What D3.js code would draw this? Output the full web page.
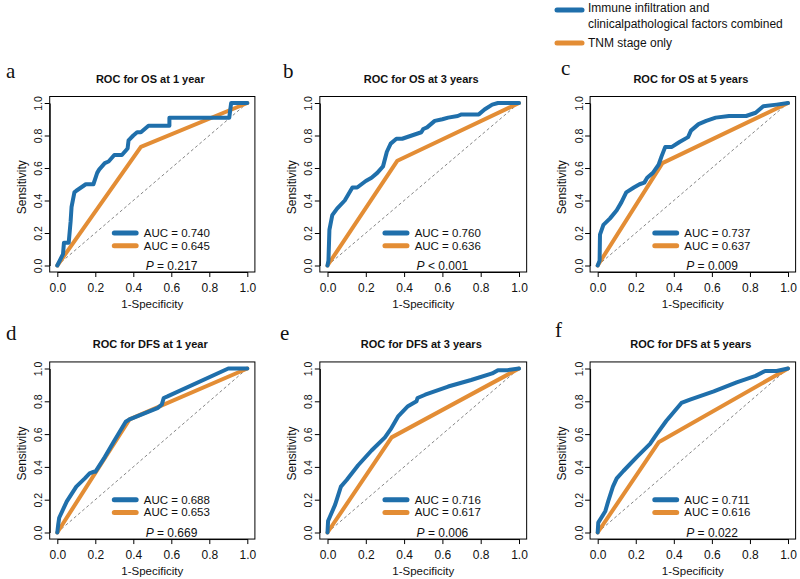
<!DOCTYPE html>
<html><head><meta charset="utf-8">
<script src="https://cdn.jsdelivr.net/npm/d3@7"></script>
<style>
body{margin:0;background:#fff;}
</style></head>
<body><svg id="c" width="800" height="579"></svg>
<script>
// ---------------- data ----------------
const letters = ["a","b","c","d","e","f"];
const titles = ["ROC for OS at 1 year","ROC for OS at 3 years","ROC for OS at 5 years",
                "ROC for DFS at 1 year","ROC for DFS at 3 years","ROC for DFS at 5 years"];
const aucCombined = ["0.740","0.760","0.737","0.688","0.716","0.711"];
const aucTNM = ["0.645","0.636","0.637","0.653","0.617","0.616"];
const pOp = ["=","<","=","=","=","="];
const pVal = ["0.217","0.001","0.009","0.669","0.006","0.022"];
const legendLabels = ["Immune infiltration and","clinicalpathological factors combined","TNM stage only"];
const ticks = [0,0.2,0.4,0.6,0.8,1.0];

// combined model ROC points [1-specificity, sensitivity]
const combOS1 = [[0,0],[0.03,0.07],[0.035,0.14],[0.06,0.14],[0.07,0.27],[0.075,0.36],[0.09,0.45],[0.1,0.46],[0.15,0.5],[0.19,0.5],[0.21,0.57],[0.22,0.59],[0.25,0.63],[0.27,0.64],[0.3,0.68],[0.34,0.68],[0.37,0.72],[0.375,0.77],[0.4,0.8],[0.42,0.82],[0.44,0.82],[0.48,0.86],[0.59,0.86],[0.59,0.91],[0.905,0.91],[0.915,1.0],[1,1]];
const combOS3 = [[0,0],[0.005,0.03],[0.01,0.22],[0.025,0.31],[0.05,0.35],[0.09,0.40],[0.11,0.44],[0.13,0.48],[0.155,0.48],[0.2,0.52],[0.23,0.54],[0.26,0.57],[0.29,0.61],[0.31,0.70],[0.33,0.75],[0.36,0.78],[0.39,0.78],[0.44,0.80],[0.49,0.82],[0.5,0.84],[0.52,0.85],[0.56,0.89],[0.6,0.9],[0.63,0.91],[0.68,0.92],[0.7,0.93],[0.79,0.93],[0.82,0.96],[0.86,0.99],[0.89,1.0],[1,1]];
const combOS5 = [[0,0],[0.01,0.03],[0.012,0.19],[0.03,0.25],[0.065,0.29],[0.1,0.34],[0.125,0.39],[0.15,0.45],[0.19,0.48],[0.22,0.5],[0.245,0.51],[0.26,0.54],[0.29,0.57],[0.32,0.62],[0.335,0.67],[0.355,0.73],[0.39,0.73],[0.43,0.76],[0.475,0.79],[0.49,0.83],[0.53,0.87],[0.57,0.89],[0.62,0.91],[0.69,0.92],[0.78,0.92],[0.83,0.94],[0.87,0.98],[0.94,0.99],[1,1]];
const combDFS1 = [[0,0],[0.005,0.05],[0.01,0.09],[0.05,0.19],[0.1,0.28],[0.145,0.33],[0.17,0.36],[0.19,0.37],[0.2,0.37],[0.25,0.46],[0.3,0.56],[0.36,0.675],[0.38,0.69],[0.53,0.76],[0.55,0.78],[0.56,0.82],[0.58,0.83],[0.9,1.0],[1,1]];
const combDFS3 = [[0,0],[0.003,0.07],[0.04,0.17],[0.07,0.28],[0.1,0.32],[0.16,0.41],[0.23,0.5],[0.3,0.58],[0.33,0.63],[0.37,0.71],[0.42,0.77],[0.465,0.8],[0.47,0.82],[0.51,0.84],[0.63,0.89],[0.75,0.93],[0.86,0.97],[0.89,0.99],[0.94,0.99],[1,1]];
const combDFS5 = [[0,0],[0.003,0.06],[0.04,0.13],[0.055,0.19],[0.08,0.28],[0.1,0.33],[0.135,0.375],[0.205,0.46],[0.275,0.54],[0.31,0.6],[0.36,0.68],[0.44,0.79],[0.485,0.81],[0.61,0.86],[0.73,0.915],[0.83,0.955],[0.88,0.985],[0.94,0.985],[1,1]];
// TNM stage only ROC points
const tnmOS1 = [[0,0],[0.44,0.73],[1,1]];
const tnmOS3 = [[0,0],[0.365,0.645],[1,1]];
const tnmOS5 = [[0,0],[0.34,0.63],[1,1]];
const tnmDFS1 = [[0,0],[0.38,0.69],[1,1]];
const tnmDFS3 = [[0,0],[0.335,0.58],[1,1]];
const tnmDFS5 = [[0,0],[0.32,0.55],[1,1]];

const combined = [combOS1,combOS3,combOS5,combDFS1,combDFS3,combDFS5];
const tnm = [tnmOS1,tnmOS3,tnmOS5,tnmDFS1,tnmDFS3,tnmDFS5];

// ---------------- layout ----------------
const BLUE = "#1f6fab", ORANGE = "#e38d35";
const SANS = "Arial,'Liberation Sans',Helvetica,sans-serif";
const SERIF = "'Liberation Serif','Times New Roman','DejaVu Serif',serif";
const colX = [[57.3,247.3],[327.5,519],[597.7,788]];
const rowY = [[265.5,103],[532.5,368.5]];
const letterPos = [[6,78],[283,78],[561,75],[6,340],[280,340],[555,337]];

const svg = d3.select("#c").style("font-family",SANS);

// top legend
const lg = svg.append("g");
[[10,BLUE],[43,ORANGE]].forEach(([y,c])=>{
  lg.append("line").attr("x1",557).attr("x2",582).attr("y1",y).attr("y2",y)
    .attr("stroke",c).attr("stroke-width",5).attr("stroke-linecap","round");
});
[[12.3,0],[28.3,1],[47.3,2]].forEach(([y,i])=>{
  lg.append("text").attr("x",588).attr("y",y).style("font-size","12px").attr("fill","#111").text(legendLabels[i]);
});

const fmt = d3.format(".1f");

for(let i=0;i<6;i++){
  const col=i%3,row=Math.floor(i/3);
  const xs=d3.scaleLinear().domain([0,1]).range(colX[col]);
  const ys=d3.scaleLinear().domain([0,1]).range(rowY[row]);
  const g=svg.append("g");
  const bx0=xs(-0.04),bx1=xs(1.04),by0=ys(-0.04),by1=ys(1.04);

  // diagonal
  g.append("line").attr("x1",xs(0)).attr("y1",ys(0)).attr("x2",xs(1)).attr("y2",ys(1))
    .attr("stroke","#777").attr("stroke-width",0.9).attr("stroke-dasharray","3,2.5");

  const line=d3.line().x(d=>xs(d[0])).y(d=>ys(d[1]));
  g.append("path").datum(tnm[i]).attr("d",line).attr("fill","none")
    .attr("stroke",ORANGE).attr("stroke-width",4).attr("stroke-linejoin","round").attr("stroke-linecap","round");
  g.append("path").datum(combined[i]).attr("d",line).attr("fill","none")
    .attr("stroke",BLUE).attr("stroke-width",4).attr("stroke-linejoin","round").attr("stroke-linecap","round");

  // box
  g.append("rect").attr("x",bx0).attr("y",by1).attr("width",bx1-bx0).attr("height",by0-by1)
    .attr("fill","none").attr("stroke","#000").attr("stroke-width",1);

  // x axis
  const xa=g.append("g").attr("transform",`translate(0,${by0})`)
    .call(d3.axisBottom(xs).tickValues(ticks).tickFormat(fmt).tickSize(5).tickSizeOuter(0).tickPadding(6));
  xa.select(".domain").attr("stroke","#000");
  xa.selectAll("text").style("font-size","12px").style("font-family",SANS).attr("fill","#111");
  // y axis
  const ya=g.append("g").attr("transform",`translate(${bx0},0)`)
    .call(d3.axisLeft(ys).tickValues(ticks).tickFormat(fmt).tickSize(5).tickSizeOuter(0));
  ya.selectAll("text").style("font-size","10.5px").style("font-family",SANS).attr("fill","#111")
    .attr("transform","rotate(-90)").attr("x",0).attr("y",-7.5).attr("dy",0).attr("text-anchor","middle");

  // axis titles
  g.append("text").attr("x",(bx0+bx1)/2).attr("y",by0+35.5).attr("text-anchor","middle")
    .style("font-size","11.5px").attr("fill","#111").text("1-Specificity");
  g.append("text").attr("transform",`translate(${bx0-24},${(by0+by1)/2+3}) rotate(-90)`)
    .attr("text-anchor","middle").style("font-size","12px").attr("fill","#111").text("Sensitivity");
  // title
  g.append("text").attr("x",(bx0+bx1)/2-2).attr("y",by1-13.5).attr("text-anchor","middle")
    .style("font-size","11px").style("font-weight","bold").attr("fill","#111").text(titles[i]);
  // panel letter
  g.append("text").attr("x",letterPos[i][0]).attr("y",letterPos[i][1])
    .style("font-family",SERIF).style("font-size","21px").attr("fill","#111").text(letters[i]);

  // inner legend
  [[0.2,BLUE,aucCombined[i]],[0.122,ORANGE,aucTNM[i]]].forEach(([y,c,v])=>{
    g.append("line").attr("x1",xs(0.3)).attr("x2",xs(0.415)).attr("y1",ys(y)).attr("y2",ys(y))
      .attr("stroke",c).attr("stroke-width",5).attr("stroke-linecap","round");
    g.append("text").attr("x",xs(0.455)).attr("y",ys(y)+4).style("font-size","11.5px").attr("fill","#111")
      .text("AUC = "+v);
  });
  const pt=g.append("text").attr("x",xs(0.465)).attr("y",ys(0)+4.5).style("font-size","12px").attr("fill","#111");
  pt.append("tspan").style("font-style","italic").text("P");
  pt.append("tspan").text(" "+pOp[i]+" "+pVal[i]);
}
</script></body></html>
